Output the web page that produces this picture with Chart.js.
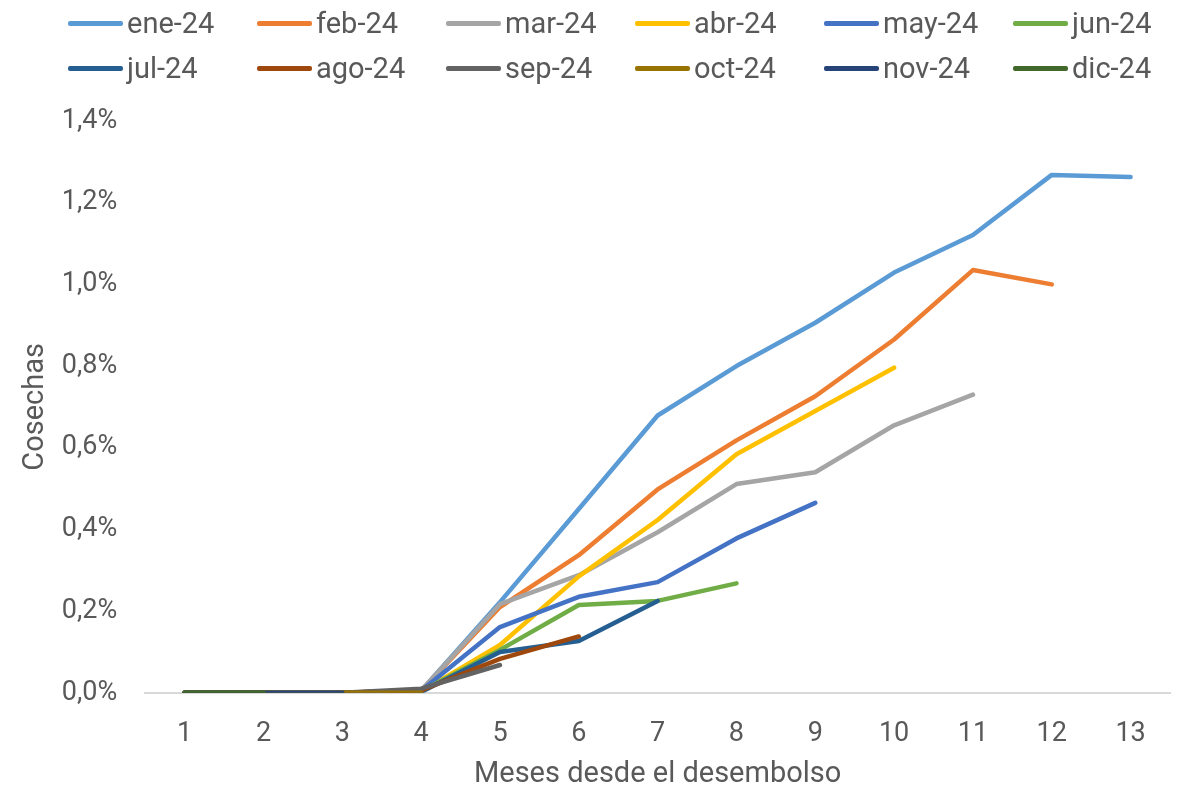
<!DOCTYPE html>
<html>
<head>
<meta charset="utf-8">
<script src="https://cdn.jsdelivr.net/npm/chart.js@4"></script>
<style>
  body { margin: 0; background: #fff; font-family: Roboto, sans-serif; }
  #wrap { position: relative; width: 1181px; height: 786px; }
  #legend { position: absolute; left: 68px; top: 6px; width: 1110px; display: grid;
    grid-template-columns: repeat(6, 189px); row-gap: 11px; }
  .item { display: flex; align-items: center; height: 34px; color: #595959; font-size: 29px; white-space: nowrap; }
  .swatch { width: 55px; height: 5px; border-radius: 2px; margin-right: 4px; flex: none; }
</style>
</head>
<body>
<div id="wrap">
  <div id="legend"></div>
  <canvas id="grafico-cosechas" width="1181" height="786"></canvas>
</div>
<script>
const meses = ['1', '2', '3', '4', '5', '6', '7', '8', '9', '10', '11', '12', '13'];
const cosechas = ['ene-24', 'feb-24', 'mar-24', 'abr-24', 'may-24', 'jun-24', 'jul-24', 'ago-24', 'sep-24', 'oct-24', 'nov-24', 'dic-24'];
const colores = ['#5B9BD5', '#ED7D31', '#A5A5A5', '#FFC000', '#4472C4', '#70AD47', '#255E91', '#9E480E', '#636363', '#997300', '#264478', '#43682B'];

const ene24 = [0, 0, 0, 0.005, 0.222, 0.45, 0.679, 0.80, 0.906, 1.029, 1.121, 1.268, 1.263];
const feb24 = [0, 0, 0, 0.005, 0.21, 0.337, 0.498, 0.618, 0.726, 0.865, 1.035, 1.0];
const mar24 = [0, 0, 0, 0.005, 0.217, 0.288, 0.393, 0.511, 0.540, 0.655, 0.730];
const abr24 = [0, 0, 0, 0.003, 0.117, 0.285, 0.423, 0.584, 0.69, 0.796];
const may24 = [0, 0, 0, 0.005, 0.161, 0.235, 0.271, 0.378, 0.465];
const jun24 = [0, 0, 0, 0.004, 0.105, 0.215, 0.225, 0.268];
const jul24 = [0, 0, 0, 0.002, 0.10, 0.127, 0.225];
const ago24 = [0, 0, 0, 0.006, 0.083, 0.138];
const sep24 = [0, 0, 0, 0.01, 0.068];
const oct24 = [0, 0, 0, 0];
const nov24 = [0, 0, 0];
const dic24 = [0, 0];
const series = [ene24, feb24, mar24, abr24, may24, jun24, jul24, ago24, sep24, oct24, nov24, dic24];

const legend = document.getElementById('legend');
cosechas.forEach(function(nombre, i) {
  const item = document.createElement('div');
  item.className = 'item';
  item.innerHTML = '<span class="swatch" style="background:' + colores[i] + '"></span>' + nombre;
  legend.appendChild(item);
});

const ctx = document.getElementById('grafico-cosechas').getContext('2d');
const chart = new Chart(ctx, {
  type: 'line',
  data: {
    labels: meses,
    datasets: cosechas.map(function(nombre, i) {
      return {
        label: nombre,
        data: series[i],
        borderColor: colores[i],
        backgroundColor: colores[i],
        borderWidth: 4.5,
        borderCapStyle: 'round',
        borderJoinStyle: 'round',
        pointRadius: 0,
        tension: 0,
        order: cosechas.length - i
      };
    })
  },
  options: {
    responsive: false,
    animation: false,
    layout: { padding: { top: 121, left: 14, right: 11, bottom: 0 } },
    plugins: { legend: { display: false }, tooltip: { enabled: false } },
    scales: {
      x: {
        offset: true,
        grid: { display: false },
        border: { display: true, color: '#D9D9D9', width: 2 },
        ticks: { color: '#595959', font: { family: 'Roboto', size: 27 }, padding: 17 },
        title: { display: true, text: 'Meses desde el desembolso', color: '#595959',
          font: { family: 'Roboto', size: 29 }, padding: { top: -10, bottom: -6 } }
      },
      y: {
        min: 0,
        max: 1.4,
        grid: { display: false },
        border: { display: false },
        ticks: {
          stepSize: 0.2,
          color: '#595959',
          font: { family: 'Roboto', size: 27 },
          padding: 20,
          callback: function(v) { return v.toFixed(1).replace('.', ',') + '%'; }
        },
        title: { display: true, text: 'Cosechas', color: '#595959',
          font: { family: 'Roboto', size: 29 }, padding: { top: 4, bottom: -11 } }
      }
    }
  }
});
</script>
</body>
</html>
